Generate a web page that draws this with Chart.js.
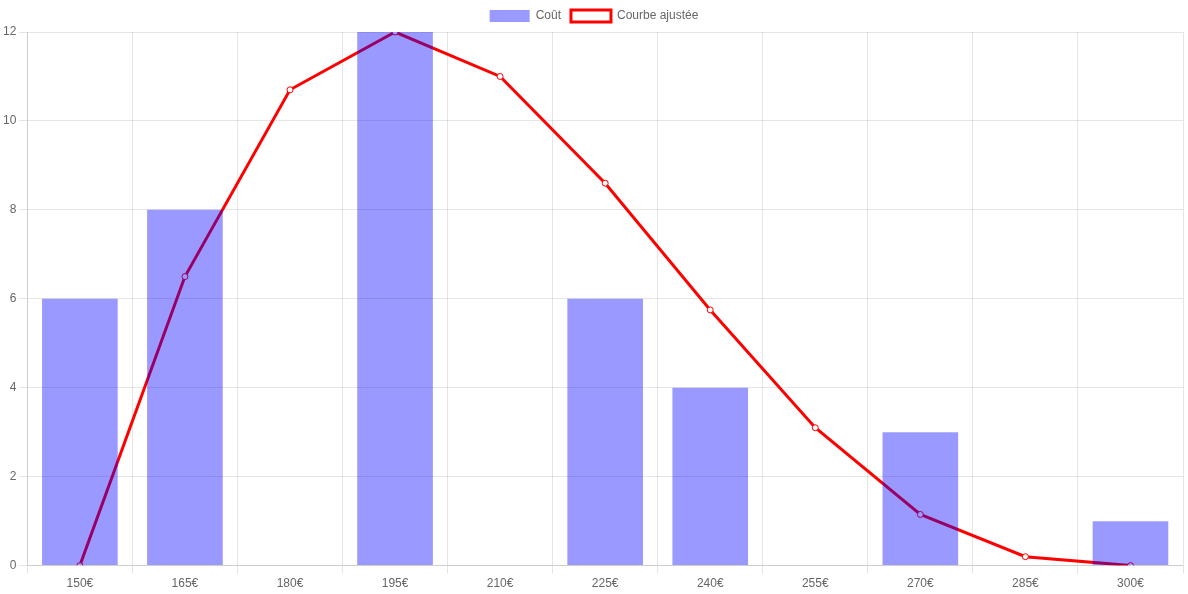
<!DOCTYPE html>
<html>
<head>
<meta charset="utf-8">
<script src="https://cdn.jsdelivr.net/npm/chart.js@4"></script>
<style>
  html, body { margin: 0; padding: 0; background: #fff; }
  #wrap { width: 1188px; height: 594px; }
</style>
</head>
<body>
<div id="wrap"><canvas id="chart"></canvas></div>
<script>
const labels = ['150€', '165€', '180€', '195€', '210€', '225€', '240€', '255€', '270€', '285€', '300€'];
const costValues = [6, 8, 0, 12, 0, 6, 4, 0, 3, 0, 1];
const fittedValues = [0, 6.5, 10.7, 12, 11, 8.6, 5.75, 3.1, 1.15, 0.2, 0];

Chart.defaults.font.family = 'Arial, "Liberation Sans", sans-serif';
Chart.defaults.color = '#666';

new Chart(document.getElementById('chart'), {
  type: 'bar',
  data: {
    labels,
    datasets: [
      {
        label: 'Coût',
        data: costValues,
        backgroundColor: 'rgba(0, 0, 255, 0.4)',
        order: 1,
      },
      {
        type: 'line',
        label: 'Courbe ajustée',
        data: fittedValues,
        borderColor: 'red',
        backgroundColor: '#fff',
        borderWidth: 3,
        pointRadius: 3,
        pointBorderWidth: 1,
        tension: 0,
        fill: false,
        order: 2,
      },
    ],
  },
  options: {
    responsive: true,
    maintainAspectRatio: false,
    animation: false,
    scales: {
      y: {
        min: 0,
        max: 12,
        ticks: { stepSize: 2 },
      },
    },
  },
});
</script>
</body>
</html>
